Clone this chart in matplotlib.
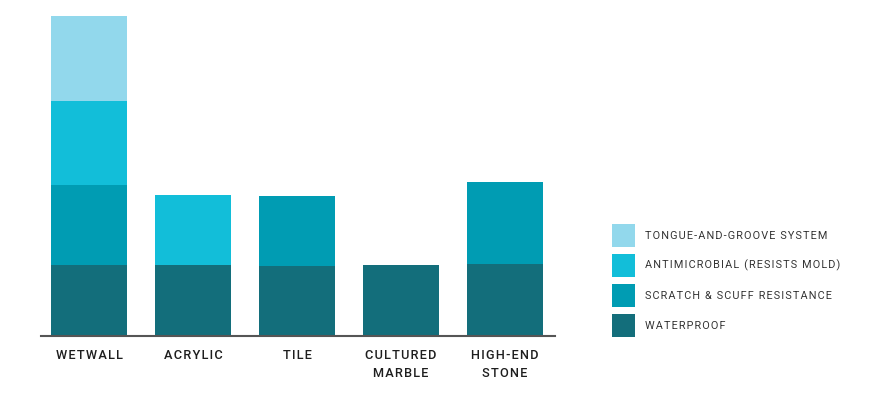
import matplotlib
matplotlib.use('Agg')
import matplotlib.pyplot as plt
from matplotlib.patches import Patch
import numpy as np

# --- data ---
categories = ["WETWALL", "ACRYLIC", "TILE", "CULTURED\nMARBLE", "HIGH-END\nSTONE"]
waterproof = [7.05, 7.05, 6.95, 7.05, 7.15]
scratch = [8.0, 0, 7.05, 0, 8.2]
antimicrobial = [8.4, 7.0, 0, 0, 0]
tongue = [8.5, 0, 0, 0, 0]

series_names = ["WATERPROOF", "SCRATCH & SCUFF RESISTANCE",
                "ANTIMICROBIAL (RESISTS MOLD)", "TONGUE-AND-GROOVE SYSTEM"]
colors = ["#136e7b", "#009cb3", "#12bed9", "#92d8ec"]

plt.rcParams['font.family'] = ['Roboto', 'DejaVu Sans']


def spaced(s, sep='\u200a'):
    # fake letter spacing
    return "\n".join(sep.join(line) for line in s.split("\n"))


fig = plt.figure(figsize=(8.87, 4.01), dpi=100)
ax = fig.add_axes([41 / 887, (401 - 335.5) / 401, (555 - 41) / 887, 325.5 / 401])

x = np.arange(len(categories))
bottom = np.zeros(len(categories))
for vals, col in zip([waterproof, scratch, antimicrobial, tongue], colors):
    ax.bar(x, vals, width=0.73, bottom=bottom, color=col, linewidth=0)
    bottom += np.array(vals)

ax.set_xlim(-0.4615, 4.48)
ax.set_ylim(0, 32.55)
ax.set_xticks(x)
ax.set_xticklabels([spaced(c) for c in categories], fontsize=9.2, color="#1e1e1e",
                   fontweight="medium", linespacing=1.42)
ax.tick_params(axis='x', length=0, pad=10)
ax.set_yticks([])
for s in ['top', 'right', 'left']:
    ax.spines[s].set_visible(False)
ax.spines['bottom'].set_color("#555555")
ax.spines['bottom'].set_linewidth(1.5)

handles = [Patch(facecolor=c, edgecolor='none') for c in colors][::-1]
labels = [spaced(n) for n in series_names][::-1]
fig.legend(handles, labels, loc='upper left', bbox_to_anchor=(612 / 887, 1 - 224 / 401),
           frameon=False, fontsize=7.8, handlelength=2.13, handleheight=2.9,
           labelspacing=0.65, handletextpad=0.9, borderpad=0, borderaxespad=0,
           labelcolor="#333333")

fig.savefig("out.png", dpi=100)
